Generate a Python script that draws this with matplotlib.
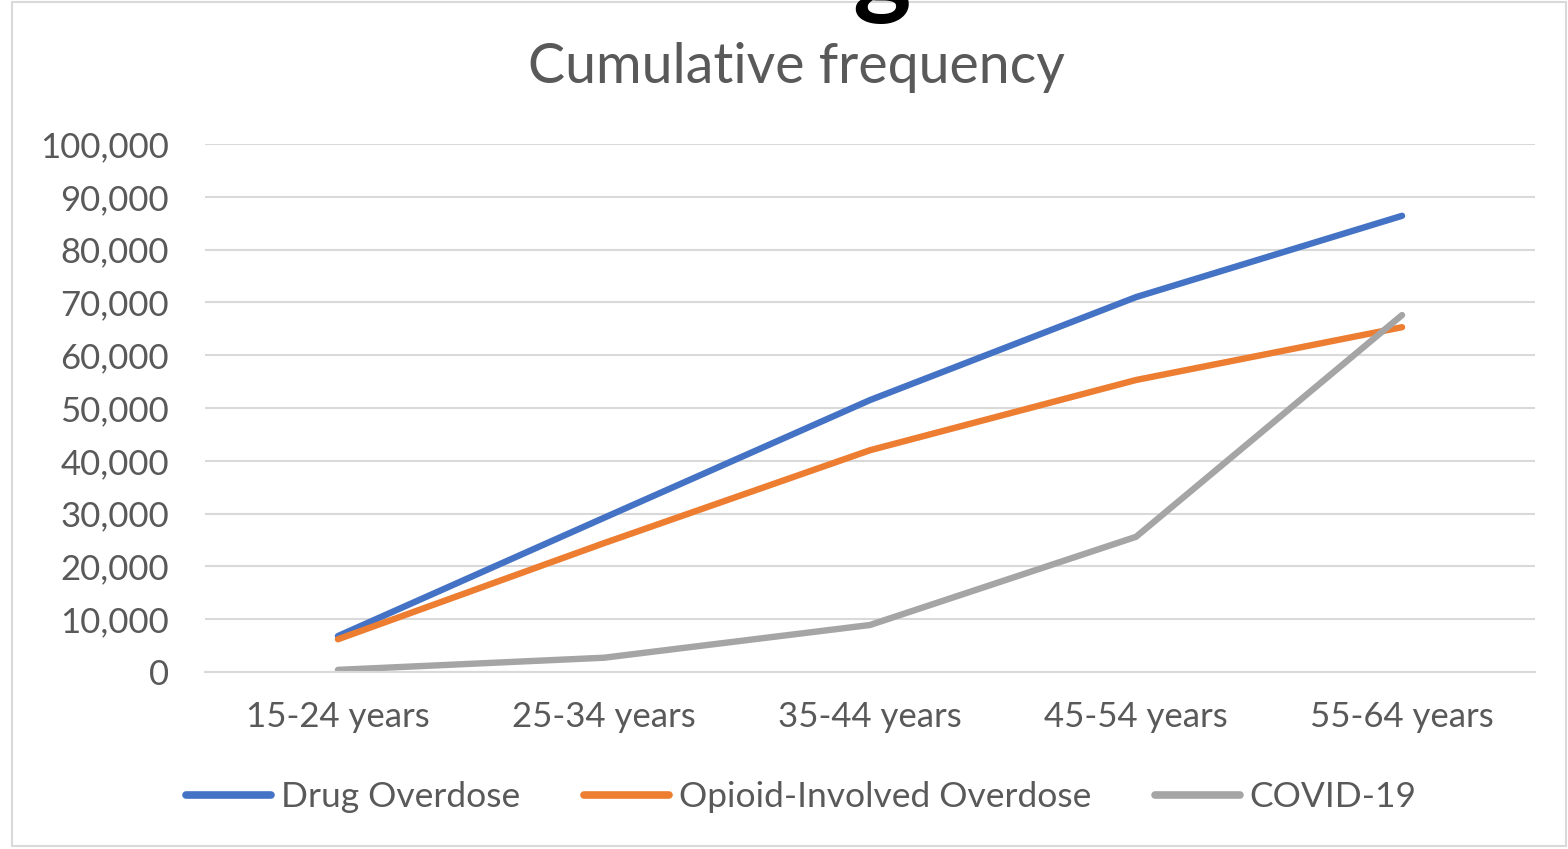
import matplotlib.pyplot as plt
from matplotlib.patches import Rectangle
from matplotlib.ticker import FuncFormatter

# Age groups and cumulative deaths per cause
age_groups = ['15-24 years', '25-34 years', '35-44 years', '45-54 years', '55-64 years']
drug_overdose = [6800, 29200, 51500, 71000, 86400]
opioid_overdose = [6200, 24400, 42000, 55300, 65300]
covid_19 = [400, 2700, 8900, 25600, 67600]

series_names = ['Drug Overdose', 'Opioid-Involved Overdose', 'COVID-19']
colors = ['#4472C4', '#ED7D31', '#A5A5A5']
text_grey = '#595959'

plt.rcParams['font.family'] = ['Lato', 'DejaVu Sans']

fig = plt.figure(figsize=(15.68, 8.49), dpi=100)
ax = fig.add_axes([0.1307, 0.2085, 0.8483, 0.6219])

x = range(len(age_groups))
for vals, name, c in zip([drug_overdose, opioid_overdose, covid_19], series_names, colors):
    ax.plot(x, vals, color=c, lw=4.6, label=name, solid_capstyle='round',
            solid_joinstyle='round')

ax.set_xlim(-0.5, len(age_groups) - 0.5)
ax.set_ylim(0, 100000)
ax.set_yticks(range(0, 100001, 10000))
ax.yaxis.set_major_formatter(FuncFormatter(lambda v, p: f'{int(v):,}'))
ax.set_xticks(list(x))
ax.set_xticklabels(age_groups)

ax.grid(axis='y', color='#d9d9d9', lw=1.5)
ax.set_axisbelow(True)
for s in ['top', 'right', 'left']:
    ax.spines[s].set_visible(False)
ax.spines['bottom'].set_color('#d9d9d9')
ax.spines['bottom'].set_linewidth(1.5)
ax.tick_params(length=0, labelsize=25, labelcolor=text_grey)
ax.tick_params(axis='y', pad=26)
ax.tick_params(axis='x', pad=21)

ax.set_title('Cumulative frequency', fontsize=40, color=text_grey, pad=44, x=0.445)

# descender of the main heading sitting above the frame
fig.text(0.562, 1.032, 'g', fontsize=80, fontweight='bold', color='black',
         ha='center', va='center')

leg = fig.legend(loc='center', bbox_to_anchor=(0.511, 0.061), ncol=3, frameon=False,
                 fontsize=25.5, handlelength=2.4, handletextpad=0.28, columnspacing=1.8)
for t in leg.get_texts():
    t.set_color(text_grey)
for h in leg.get_lines():
    h.set_linewidth(5.5)

# chart frame
fig.patches.append(Rectangle((12 / 1568, 3 / 849), 1554 / 1568, 844 / 849,
                             transform=fig.transFigure, fill=False,
                             edgecolor='#d9d9d9', lw=1.5))

fig.savefig('out.png', dpi=100)
